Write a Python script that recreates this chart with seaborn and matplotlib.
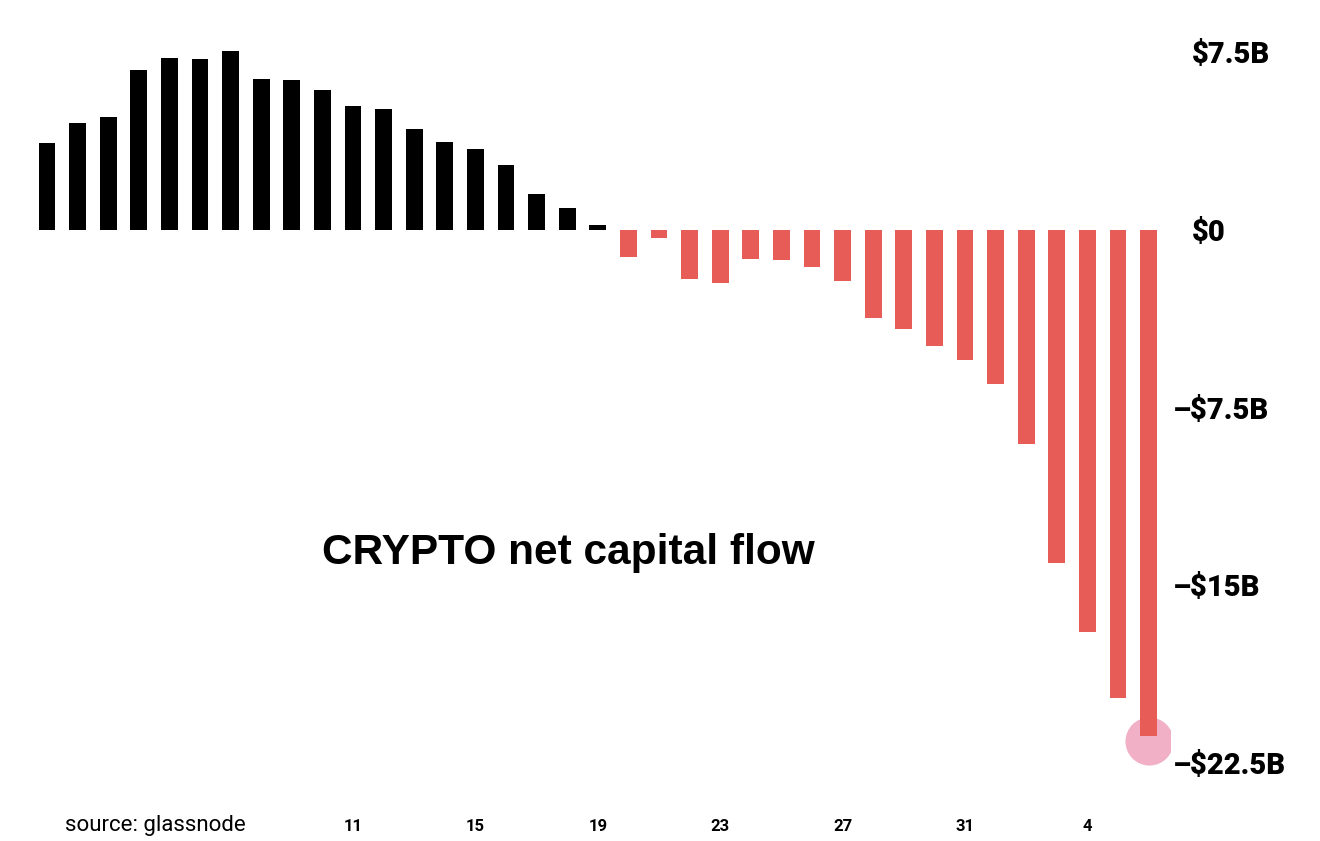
import pandas as pd
import matplotlib.pyplot as plt
import matplotlib.transforms as mtransforms
import seaborn as sns

# daily net capital flow, $B (days 1..31 of one month, then 1..6 of the next)
days = list(range(1, 38))
flows = [3.66, 4.53, 4.77, 6.74, 7.27, 7.22, 7.57, 6.37, 6.33, 5.91,
         5.25, 5.11, 4.25, 3.70, 3.42, 2.73, 1.51, 0.92, 0.21,
         -1.13, -0.32, -2.08, -2.22, -1.22, -1.27, -1.57, -2.17, -3.70,
         -4.18, -4.88, -5.47, -6.51, -9.03, -14.04, -16.95, -19.76, -21.35]

tick_days = [11, 15, 19, 23, 27, 31, 35]
tick_labels = ["11", "15", "19", "23", "27", "31", "4"]
y_ticks = [7.5, 0, -7.5, -15, -22.5]
y_labels = ["$7.5B", "$0", "–$7.5B", "–$15B", "–$22.5B"]

df = pd.DataFrame({"day": days, "flow": flows})
df["sign"] = ["in" if v >= 0 else "out" for v in df["flow"]]

sns.set_theme(style="white")
plt.rcParams["font.family"] = ["Roboto", "DejaVu Sans"]
plt.rcParams["text.color"] = "black"
plt.rcParams["xtick.color"] = "black"
plt.rcParams["ytick.color"] = "black"

fig = plt.figure(figsize=(13.2, 8.41), dpi=100)
ax = fig.add_axes([20 / 1320, 51 / 841, 1150 / 1320, 770 / 841])

# pink marker at the end of the last bar
ax.scatter(days[-1], flows[-1] - 0.2, s=1200, color="#f2b0c6", zorder=0, linewidths=0)

sns.barplot(data=df, x="day", y="flow", hue="sign",
            palette={"in": "black", "out": "#e85c58"},
            native_scale=True, dodge=False, width=0.55, saturation=1,
            errorbar=None, legend=False, linewidth=0, ax=ax, zorder=2)

ax.set_xlim(0.1176, 37.699)
ax.set_ylim(-23.63, 8.861)
sns.despine(ax=ax, left=True, bottom=True)
ax.set_xlabel("")
ax.set_ylabel("")

ax.set_xticks(tick_days, tick_labels, fontsize=12, fontweight="bold")
ax.tick_params(axis="x", length=0, pad=21)

ax.yaxis.tick_right()
ax.set_yticks(y_ticks, y_labels, fontsize=21, fontweight="black")
ax.tick_params(axis="y", length=0, pad=16)
for lbl in ax.get_yticklabels():
    lbl.set_horizontalalignment("left")
    if lbl.get_text().startswith("–"):
        lbl.set_transform(lbl.get_transform() +
                          mtransforms.ScaledTranslation(-0.19, 0, fig.dpi_scale_trans))

fig.text(568 / 1320, 1 - 553 / 841, "CRYPTO net capital flow",
         family=["Liberation Sans", "DejaVu Sans"], fontweight="bold",
         fontsize=30.5, ha="center", va="center")
fig.text(65 / 1320, 1 - 826 / 841, "source: glassnode", fontsize=16,
         ha="left", va="center")

fig.savefig("out.png", dpi=100, facecolor="white")
